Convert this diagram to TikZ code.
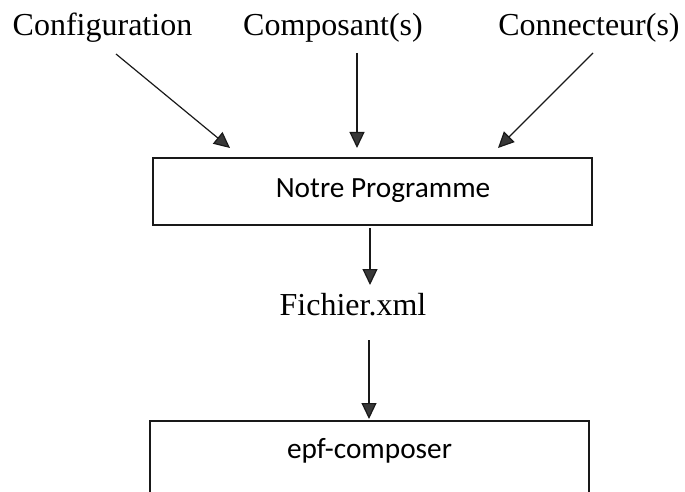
\documentclass[tikz,border=0pt]{standalone}
\usepackage{fontspec}
\setmainfont{Liberation Serif}
\newfontfamily\boxfont{Carlito}
\usetikzlibrary{arrows.meta}
\begin{document}
\begin{tikzpicture}[x=1pt,y=-1pt,
  tag/.style={font=\fontsize{32}{38}\selectfont, inner sep=0pt, anchor=base},
  procbox/.style={draw=black!90, line width=1.7pt, font=\boxfont\fontsize{29.3}{35}\selectfont,
    inner xsep=0pt, minimum width=439pt, anchor=north},
  flow/.style={line width=1.2pt, draw=black!90,
    -{Triangle[length=16pt,width=15pt,fill=black!78]}},
]
\useasboundingbox (0,0) rectangle (685,492);
\clip (0,0) rectangle (685,492);

% inputs
\node[tag] (cfg) at (102.5,36) {Configuration};
\node[tag] (cmp) at (333,36) {Composant(s)};
\node[tag] (cnx) at (589,36) {Connecteur(s)};

% program box
\node[procbox, inner ysep=10pt, text height=30pt, text depth=17pt] (prog)
  at (372.5,157) {\hspace*{21pt}Notre Programme};

% generated file
\node[tag] (xml) at (353,315) {Fichier.xml};

% composer box (runs off the bottom edge)
\node[procbox, inner ysep=18pt, text height=20pt, text depth=60pt] (epf)
  at (369.5,420) {epf-composer};

% connector end points
\coordinate (cfgout) at (116,54);
\coordinate (cmpout) at (357,53);
\coordinate (cnxout) at (593,53);
\coordinate (progin1) at (230,148);
\coordinate (progin2) at (357,148);
\coordinate (progin3) at (498,148);
\coordinate (progout) at (370,228);
\coordinate (xmlin) at (370,285);
\coordinate (xmlout) at (369,340);
\coordinate (epfin) at (369,419);

\draw[flow] (cfgout) -- (progin1);
\draw[flow] (cmpout) -- (progin2);
\draw[flow] (cnxout) -- (progin3);
\draw[flow] (progout) -- (xmlin);
\draw[flow] (xmlout) -- (epfin);
\end{tikzpicture}
\end{document}
